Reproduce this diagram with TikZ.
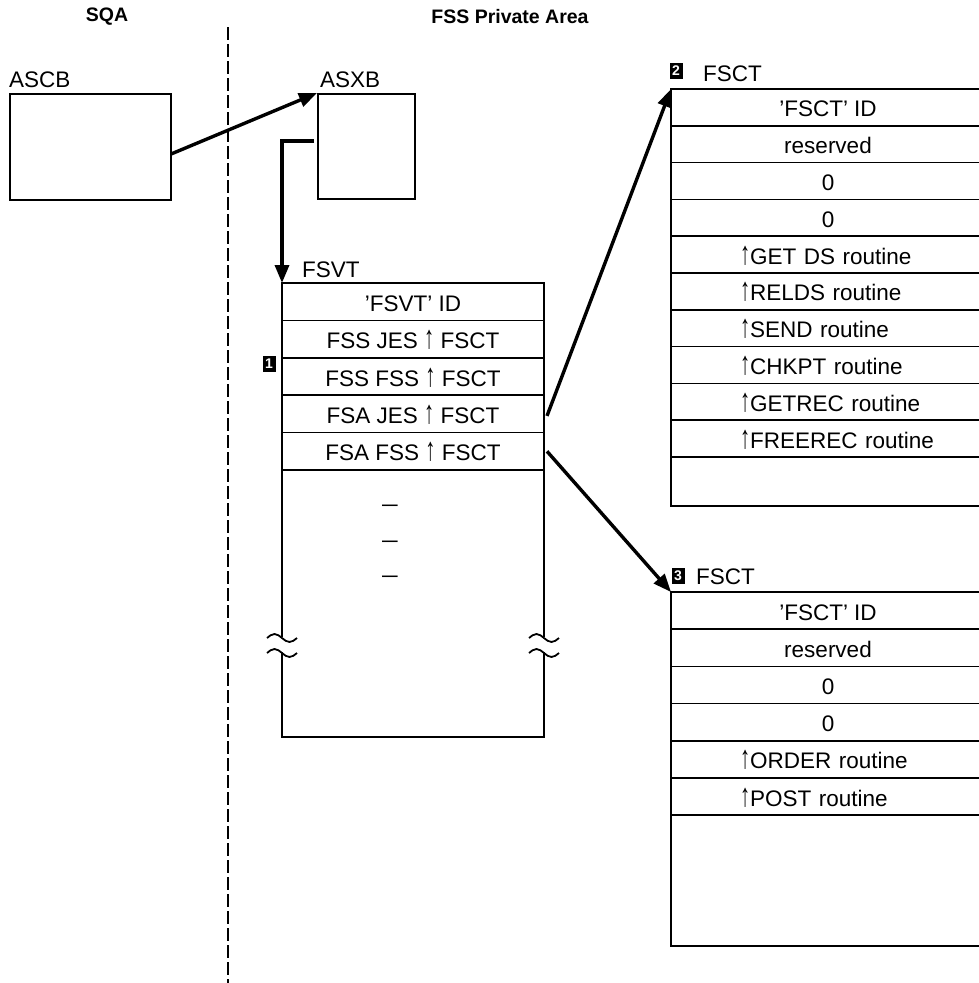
\documentclass[tikz,border=0pt]{standalone}
\usepackage{fontspec}
\usepackage{graphicx}
\setmainfont{Liberation Sans}
\usetikzlibrary{arrows.meta,calc}
\newcommand\uparr{\scalebox{0.9}[1.45]{↑}}
\newcommand\longdash{\scalebox{1.25}[1]{–}}
\begin{document}
\begin{tikzpicture}[x=1pt,y=-1pt,font=\fontsize{22.5}{27}\selectfont]
\tikzset{
 boxline/.style={line width=1.6pt},
 cell/.style={draw, line width=1.6pt, inner sep=0pt, outer sep=0pt, anchor=north west, text height=19pt, text depth=0pt},
 vcell/.style={cell, minimum width=262pt, minimum height=37.4pt},
 scell/.style={cell, minimum width=314pt, minimum height=36.8pt},
 tcell/.style={cell, minimum width=314pt, minimum height=37.2pt},
 ptr/.style={align=left, text width=314pt, execute at begin node={\hspace*{69pt}}},
 bigarrow/.style={line width=3.4pt, -{Triangle[length=18pt,width=14pt]}},
 marker/.style={fill=black, text=white, font=\bfseries\fontsize{14}{14}\selectfont, inner sep=0pt, minimum width=13pt, minimum height=16pt},
 lbl/.style={anchor=base west, inner sep=0pt},
 title/.style={font=\bfseries\fontsize{19.5}{22}\selectfont, inner sep=0pt},
 tilde/.style={line width=1.8pt},
 divider/.style={line width=1.6pt, dash pattern=on 13pt off 4pt},
}
\useasboundingbox (0,0) rectangle (979,983);

% titles
\node[title] (tsqa) at (107,17) {SQA};
\node[title] (tfss) at (510,17) {FSS Private Area};

% divider
\coordinate (dtop) at (228,27);
\coordinate (dbot) at (228,983);
\draw[divider] (dtop) -- (dbot);

% ASCB / ASXB
\node[lbl] (ascbl) at (9,87) {ASCB};
\node[draw, line width=1.6pt, inner sep=0pt, anchor=north west, minimum width=161pt, minimum height=106pt] (ascb) at (9,93) {};
\node[lbl] (asxbl) at (320,87) {ASXB};
\node[draw, line width=1.6pt, inner sep=0pt, anchor=north west, minimum width=97pt, minimum height=105pt] (asxb) at (317,93) {};

% FSVT
\node[lbl] (fsvtl) at (302,277) {FSVT};
\node[vcell] (v1) at (282,283) {’FSVT’ ID};
\node[vcell] (v2) at (v1.south west) {FSS JES \uparr\ FSCT};
\node[vcell] (v3) at (v2.south west) {FSS FSS \uparr\ FSCT};
\node[vcell] (v4) at (v3.south west) {FSA JES \uparr\ FSCT};
\node[vcell] (v5) at (v4.south west) {FSA FSS \uparr\ FSCT};
\coordinate (vlb1) at (282,637);
\coordinate (vlb2) at (282,652);
\coordinate (vrb1) at (544,637);
\coordinate (vrb2) at (544,652);
\coordinate (vbl) at (282,737);
\coordinate (vbr) at (544,737);
\draw[boxline] (v5.south west) -- (vlb1);
\draw[boxline] (v5.south east) -- (vrb1);
\draw[boxline] (vlb2) -- (vbl) -- (vbr) -- (vrb2);
\draw[tilde] ($(vlb1)+(-15,1)$) sin ++(7.5,-4) cos ++(7.5,4) sin ++(7.5,4) cos ++(7.5,-4);
\draw[tilde] ($(vlb2)+(-15,1)$) sin ++(7.5,-4) cos ++(7.5,4) sin ++(7.5,4) cos ++(7.5,-4);
\draw[tilde] ($(vrb1)+(-15,1)$) sin ++(7.5,-4) cos ++(7.5,4) sin ++(7.5,4) cos ++(7.5,-4);
\draw[tilde] ($(vrb2)+(-15,1)$) sin ++(7.5,-4) cos ++(7.5,4) sin ++(7.5,4) cos ++(7.5,-4);
\node[anchor=base, inner sep=0pt] (d1) at (390,511) {\longdash};
\node[anchor=base, inner sep=0pt] (d2) at (390,547) {\longdash};
\node[anchor=base, inner sep=0pt] (d3) at (390,582) {\longdash};
\node[marker] (m1) at (269,364) {1};

% FSCT (2)
\node[marker] (m2) at (676,71) {2};
\node[lbl] (l2) at (703,81) {FSCT};
\node[scell] (a1) at (671,89) {’FSCT’ ID};
\node[scell] (a2) at (a1.south west) {reserved};
\node[scell] (a3) at (a2.south west) {0};
\node[scell] (a4) at (a3.south west) {0};
\node[scell,ptr] (a5) at (a4.south west) {\uparr GET DS routine};
\node[scell,ptr] (a6) at (a5.south west) {\uparr RELDS routine};
\node[scell,ptr] (a7) at (a6.south west) {\uparr SEND routine};
\node[scell,ptr] (a8) at (a7.south west) {\uparr CHKPT routine};
\node[scell,ptr] (a9) at (a8.south west) {\uparr GETREC routine};
\node[scell,ptr] (a10) at (a9.south west) {\uparr FREEREC routine};
\node[scell, minimum height=49pt] (a11) at (a10.south west) {};

% FSCT (3)
\node[marker] (m3) at (678,576) {3};
\node[lbl] (l3) at (696,584) {FSCT};
\node[tcell] (b1) at (671,592) {’FSCT’ ID};
\node[tcell] (b2) at (b1.south west) {reserved};
\node[tcell] (b3) at (b2.south west) {0};
\node[tcell] (b4) at (b3.south west) {0};
\node[tcell,ptr] (b5) at (b4.south west) {\uparr ORDER routine};
\node[tcell,ptr] (b6) at (b5.south west) {\uparr POST routine};
\node[tcell, minimum height=131pt] (b7) at (b6.south west) {};

% connectors
\draw[bigarrow] ($(ascb.east)+(0,7)$) -- (asxb.north west);
\draw[bigarrow] ($(asxb.west)+(-3,-5.5)$) -| (v1.north west);
\draw[bigarrow] ($(v4.east)+(3,2)$) -- (a1.north west);
\draw[bigarrow] ($(v5.east)+(3,0)$) -- (b1.north west);
\end{tikzpicture}
\end{document}
